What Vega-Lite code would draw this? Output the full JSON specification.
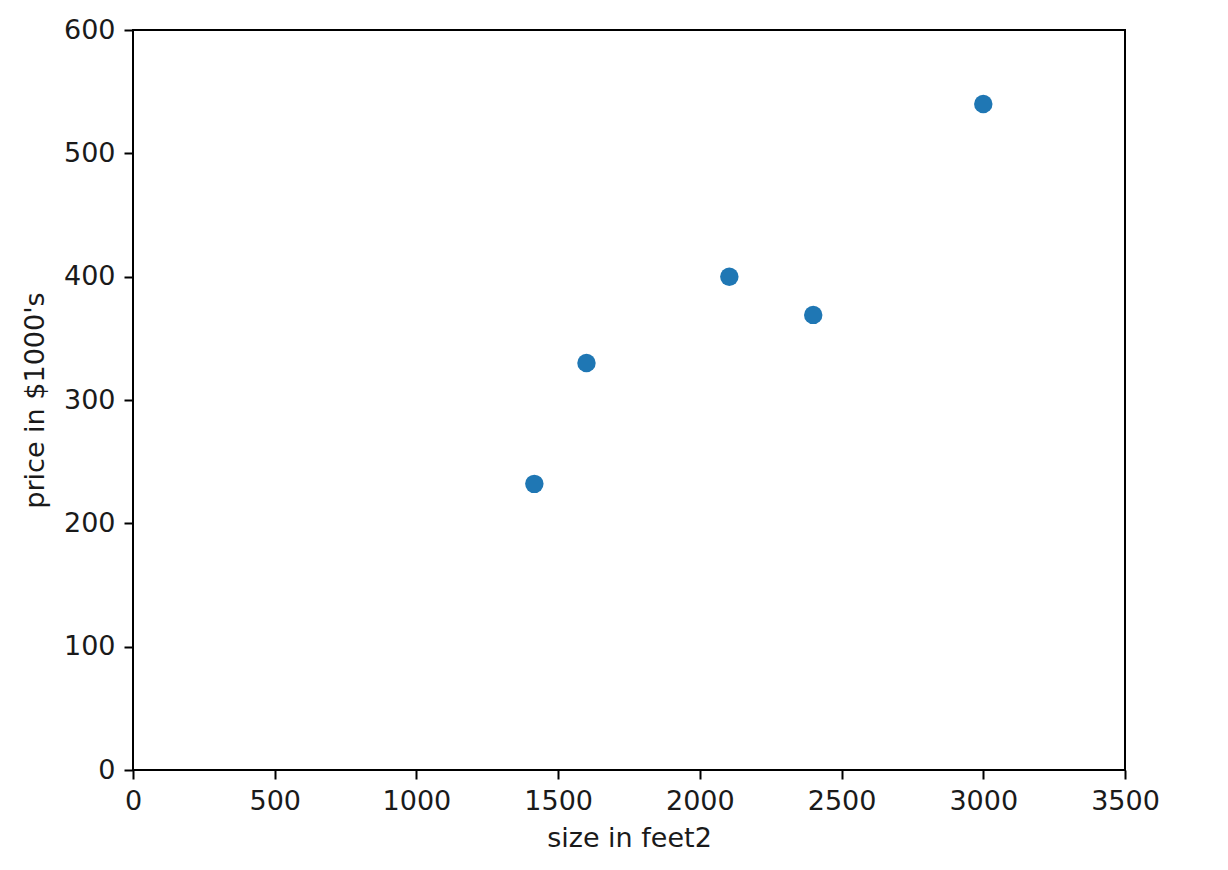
{
  "$schema": "https://vega.github.io/schema/vega-lite/v6.json",
  "autosize": "none",
  "width": 992,
  "height": 740,
  "padding": {"left": 133, "top": 30, "right": 103, "bottom": 100},
  "background": "white",
  "config": {
    "view": {"stroke": "black", "strokeWidth": 2},
    "font": "DejaVu Sans",
    "axis": {
      "grid": false,
      "domain": false,
      "tickColor": "black",
      "tickWidth": 2,
      "tickSize": 9,
      "labelFontSize": 27,
      "labelColor": "#1a1a1a",
      "labelFont": "DejaVu Sans",
      "labelPadding": 9,
      "labelFlush": false,
      "labelOverlap": false,
      "format": "d",
      "titleFontSize": 27,
      "titleFont": "DejaVu Sans",
      "titleFontWeight": "normal",
      "titleColor": "#1a1a1a"
    }
  },
  "data": {
    "values": [
      {"size": 2104, "price": 400},
      {"size": 1600, "price": 330},
      {"size": 2400, "price": 369},
      {"size": 1416, "price": 232},
      {"size": 3000, "price": 540}
    ]
  },
  "mark": {"type": "circle", "color": "#1f77b4", "opacity": 1, "size": 340},
  "encoding": {
    "x": {
      "field": "size",
      "type": "quantitative",
      "scale": {"domain": [0, 3500], "nice": false, "zero": false},
      "axis": {"values": [0, 500, 1000, 1500, 2000, 2500, 3000, 3500], "title": "size in feet2", "titlePadding": 11}
    },
    "y": {
      "field": "price",
      "type": "quantitative",
      "scale": {"domain": [0, 600], "nice": false, "zero": false},
      "axis": {"values": [0, 100, 200, 300, 400, 500, 600], "title": "price in $1000's", "titlePadding": 14}
    }
  }
}
